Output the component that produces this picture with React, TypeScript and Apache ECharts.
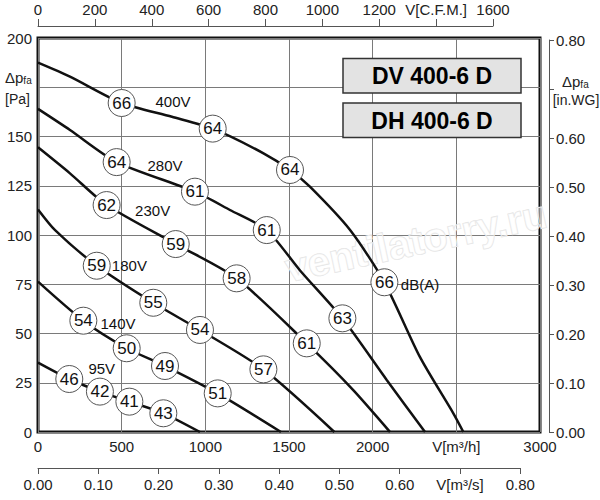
import React, { useEffect, useRef } from "react";
import * as echarts from "echarts";

// ---- data ----
const flowTicksM3h = [0, 500, 1000, 1500, 2000, 2500, 3000];
const cfmTicks = [0, 200, 400, 600, 800, 1000, 1200, 1400, 1600];
const curve400: number[][] = [[0, 187.5], [191, 180.4], [500, 167], [800, 160], [1044, 154], [1345, 141.6], [1506, 133], [1625, 124.5], [1865, 102.5], [2070, 76], [2283, 38], [2482, 9.5], [2542, 0]];
const curve280: number[][] = [[0, 164], [191, 153.3], [470, 137], [938, 122], [1147, 112.7], [1367, 102.5], [1566, 82], [1819, 57.7], [2084, 26.4], [2313, 0]];
const curve230: number[][] = [[0, 144.5], [191, 131.3], [410, 115.2], [823, 95.4], [1187, 78], [1606, 45], [1884, 21.3], [2104, 0]];
const curve180: number[][] = [[0, 113], [102, 102.5], [351, 84.4], [689, 65.6], [968, 51.8], [1347, 31.8], [1771, 0]];
const curve140: number[][] = [[0, 76.3], [271, 56.5], [530, 42.5], [759, 33.5], [1074, 19.6], [1452, 0]];
const curve95: number[][] = [[0, 35.2], [187, 26.9], [370, 20.5], [546, 15.4], [749, 9.5], [968, 0]];
const curves = [curve400, curve280, curve230, curve180, curve140, curve95];

// noise badges: [flow m3/h, pressure Pa, dB(A)]
const badges: number[][] = [
  [500, 167, 66], [1044, 154, 64], [1506, 133, 64], [2070, 76, 66],
  [470, 137, 64], [938, 122, 61], [1367, 102.5, 61], [1819, 57.7, 63],
  [410, 115.2, 62], [823, 95.4, 59], [1187, 78, 58], [1606, 45, 61],
  [351, 84.4, 59], [689, 65.6, 55], [968, 51.8, 54], [1347, 31.8, 57],
  [271, 56.5, 54], [530, 42.5, 50], [759, 33.5, 49], [1074, 19.6, 51],
  [187, 26.9, 46], [370, 20.5, 42], [546, 15.4, 41], [749, 9.5, 43],
];

// curve name labels: [flow, pressure, text]
const curveLabels: [number, number, string][] = [
  [807, 167.7, "400V"],
  [759, 135.5, "280V"],
  [685, 112.3, "230V"],
  [546, 84.4, "180V"],
  [478, 55.3, "140V"],
  [381, 32, "95V"],
  [2283, 75.1, "dB(A)"],
];

const titles = ["DV 400-6 D", "DH 400-6 D"];

const FONT = "'Liberation Sans', Arial, Helvetica, sans-serif";

export default function App() {
  const ref = useRef<HTMLDivElement>(null);

  useEffect(() => {
    if (!ref.current) return;
    const chart = echarts.init(ref.current, undefined, { renderer: "svg" });
    const txt = { fontFamily: FONT, fontSize: 15, color: "#222" };
    const hiddenAxis = (gi: number) => ({ type: "value", gridIndex: gi, show: false, min: 0, max: 1 });

    const option: any = {
      animation: false,
      backgroundColor: "#fff",
      grid: [
        { left: 38, top: 38, width: 502, height: 394, show: true, borderColor: "#111", borderWidth: 3, backgroundColor: "transparent" },
        { left: 38, top: 26, width: 455, height: 1 },
        { left: 38, top: 467, width: 482.3, height: 1 },
        { left: 548, top: 40, width: 1, height: 392 },
      ],
      xAxis: [
        {
          type: "value", gridIndex: 0, min: 0, max: 3000, interval: 500,
          axisLine: { show: false }, axisTick: { show: false },
          splitLine: { show: true, lineStyle: { color: "#7a7a7a", width: 1 } },
          axisLabel: { ...txt, margin: 7, formatter: (v: number) => (v === 2500 ? "V[m³/h]" : String(v)), showMaxLabel: true, showMinLabel: true },
        },
        {
          type: "value", gridIndex: 1, position: "top", min: 0, max: 1600, interval: 200,
          axisLine: { show: true, onZero: false, lineStyle: { color: "#555", width: 1 } },
          axisTick: { show: true, inside: false, length: 7, lineStyle: { color: "#555" } },
          splitLine: { show: false },
          axisLabel: { ...txt, margin: 9, formatter: (v: number) => (v === 1400 ? "V[C.F.M.]" : String(v)) },
        },
        {
          type: "value", gridIndex: 2, position: "bottom", min: 0, max: 0.8, interval: 0.1,
          axisLine: { show: true, onZero: false, lineStyle: { color: "#555", width: 1 } },
          axisTick: { show: true, inside: false, length: 6, lineStyle: { color: "#555" } },
          splitLine: { show: false },
          axisLabel: { ...txt, margin: 9, formatter: (v: number) => (Math.abs(v - 0.7) < 1e-6 ? "V[m³/s]" : v.toFixed(2)) },
        },
        hiddenAxis(3),
      ],
      yAxis: [
        {
          type: "value", gridIndex: 0, min: 0, max: 200, interval: 25,
          axisLine: { show: false }, axisTick: { show: false },
          splitLine: { show: true, lineStyle: { color: "#7a7a7a", width: 1 } },
          axisLabel: { ...txt, margin: 6, formatter: (v: number) => (v === 175 ? "" : String(v)) },
        },
        hiddenAxis(1),
        hiddenAxis(2),
        {
          type: "value", gridIndex: 3, position: "right", min: 0, max: 0.8, interval: 0.1,
          axisLine: { show: true, onZero: false, lineStyle: { color: "#555", width: 1 } },
          axisTick: { show: true, inside: false, length: 5, lineStyle: { color: "#555" } },
          splitLine: { show: false },
          axisLabel: { ...txt, margin: 7, formatter: (v: number) => (Math.abs(v - 0.7) < 1e-6 ? "" : v.toFixed(2)) },
        },
      ],
      series: [
        ...curves.map((c) => ({
          type: "line", xAxisIndex: 0, yAxisIndex: 0, data: c, showSymbol: false, smooth: 0.25,
          lineStyle: { color: "#111", width: 2.5 }, silent: true, z: 3,
        })),
        {
          type: "scatter", xAxisIndex: 0, yAxisIndex: 0, data: badges, symbol: "circle", symbolSize: 27,
          itemStyle: { color: "#fff", borderColor: "#555", borderWidth: 1, opacity: 1 },
          label: { show: true, position: "inside", formatter: (p: any) => String(p.value[2]), fontFamily: FONT, fontSize: 17, color: "#111" },
          silent: true, z: 5,
        },
        {
          type: "scatter", xAxisIndex: 0, yAxisIndex: 0, symbolSize: 1,
          data: curveLabels.map((l) => ({ value: [l[0], l[1]], name: l[2] })),
          itemStyle: { color: "rgba(255,255,255,0)", opacity: 1 },
          label: { show: true, position: "inside", formatter: (p: any) => p.name, fontFamily: FONT, fontSize: 15, color: "#111", opacity: 1 },
          silent: true, z: 6,
        },
      ],
      graphic: [
        {
          type: "text", x: 290, y: 288, rotation: 0.21, z: 1,
          style: { text: "ventilatorry.ru", font: `bold 40px ${FONT}`, fill: "rgba(255,255,255,0.5)", stroke: "#e2e2e2", lineWidth: 1, textAlign: "left", textVerticalAlign: "bottom" },
        },
        ...titles.flatMap((t, i) => [
          { type: "rect", shape: { x: 343, y: 58.5 + i * 44.5, width: 178, height: 34.5 }, style: { fill: "#e3e3e3", stroke: "#333", lineWidth: 1.5 }, z: 10 },
          { type: "text", x: 432, y: 76 + i * 44.5, z: 11, style: { text: t, font: `bold 23px ${FONT}`, fill: "#000", textAlign: "center", textVerticalAlign: "middle" } },
        ]),
        {
          type: "text", x: 5, y: 77, z: 10,
          style: {
            text: "{a|Δp}{b|fa}", textVerticalAlign: "middle",
            rich: { a: { fontFamily: FONT, fontSize: 15, fill: "#222" }, b: { fontFamily: FONT, fontSize: 10, fill: "#222", padding: [6, 0, 0, 0] } },
          },
        },
        { type: "text", x: 5, y: 99, z: 10, style: { text: "[Pa]", font: `14px ${FONT}`, fill: "#222", textVerticalAlign: "middle" } },
        {
          type: "text", x: 562, y: 81, z: 10,
          style: {
            text: "{a|Δp}{b|fa}", textVerticalAlign: "middle",
            rich: { a: { fontFamily: FONT, fontSize: 15, fill: "#222" }, b: { fontFamily: FONT, fontSize: 10, fill: "#222", padding: [6, 0, 0, 0] } },
          },
        },
        { type: "text", x: 576, y: 100, z: 10, style: { text: "[in.WG]", font: `14px ${FONT}`, fill: "#222", textAlign: "center", textVerticalAlign: "middle" } },
      ],
    };

    chart.setOption(option);
    return () => chart.dispose();
  }, []);

  return <div ref={ref} style={{ position: "absolute", left: 0, top: 0, width: 600, height: 500 }} />;
}
